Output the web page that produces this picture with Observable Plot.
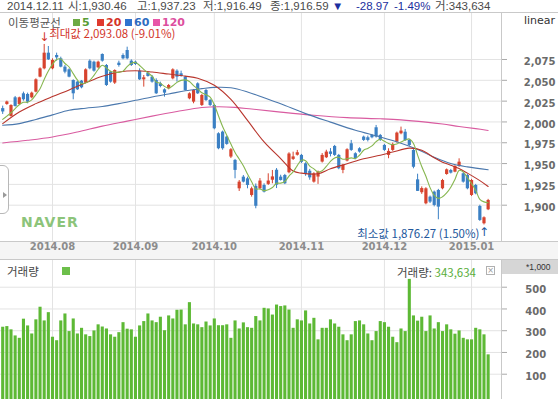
<!DOCTYPE html>
<html>
<head>
<meta charset="utf-8">
<script src="https://cdn.jsdelivr.net/npm/d3@7"></script>
<script src="https://cdn.jsdelivr.net/npm/@observablehq/plot@0.6"></script>
<style>
html,body{margin:0;padding:0;background:#fff;}
#root{position:relative;width:558px;height:399px;overflow:hidden;background:#fff;}
.t{position:absolute;white-space:nowrap;font-family:"Noto Sans CJK KR","DejaVu Sans",sans-serif;font-size:11.5px;line-height:12px;color:#4a4a4a;}
.ln{position:absolute;background:#c9c9c9;}
.sq{position:absolute;width:7px;height:7px;}
#root svg{position:absolute;left:0;}
</style>
</head>
<body>
<div id="root"></div>
<script>
// ---------- categories / ticks ----------
const monthLabels = ["2014.08","2014.09","2014.10","2014.11","2014.12","2015.01"];
const monthStartIdx = [12,32,51,72,92,113];   // trading-day index of the first session of each month
const priceTicks = [1900,1925,1950,1975,2000,2025,2050,2075];
const volTicks = [100,200,300,400,500];

// ---------- daily candles (KOSPI, 2014.07.16 – 2015.01.08) ----------
const opens = [2016,2021,2006.6,2029,2021,2033.8,2033,2029,2035.8,2053.8,
 2063.8,2082.6,2063.8,2079.8,2075.8,2065.8,2062.6,2049.8,2047.8,2049,
 2046.6,2073,2071.8,2065,2081,2067.8,2059.8,2046.6,2070.6,2079.8,
 2085.8,2073,2071.8,2061,2050.6,2058.6,2053.8,2049.8,2045.8,2038.6,
 2039.8,2051.8,2061,2057.8,2053.8,2027.8,2023.8,2045.8,2019.8,2037.8,
 2025.8,2019.8,1985.8,1987.8,1981.8,1957.8,1953.8,1919.7,1933.7,1931.7,
 1911.7,1922.7,1919.7,1923.7,1925,1930,1942,1933.7,1935.7,1939,
 1955,1960,1959.8,1949.7,1940.8,1927.7,1933.8,1951.8,1957,1964,
 1970.6,1959.8,1941.8,1953,1973.8,1961.8,1967.8,1981.8,1981,1983.8,
 1993,1983.8,1971.8,1959.8,1965.8,1975.8,1985.8,1987.7,1977.7,1965.7,
 1930.46,1915,1901.7,1909.7,1915.7,1917.7,1919.7,1936.9,1941.7,1939.7,
 1946.5,1937.7,1935.7,1911.7,1923.7,1898.5,1877.7,1894.5];
const highs = [2019,2025,2020.6,2030.6,2029.8,2035.8,2034.6,2035.8,2051.8,2065,
 2093.08,2090.6,2075.8,2082.6,2077.8,2067.8,2063.8,2050.6,2049,2049.8,
 2063.8,2074.6,2073,2073,2081.8,2069,2061,2062.6,2073,2081.8,
 2089.8,2074.6,2073,2063.8,2055.8,2059.8,2055.8,2051.8,2047.8,2039.8,
 2045,2063.8,2062.6,2061,2054.6,2035,2039,2047,2033,2039,
 2027,2021,1987,1989,1983,1968,1955,1929.7,1935.7,1933.7,
 1921.7,1925.5,1932,1925.7,1937.7,1941.7,1944,1936,1937,1963,
 1963.7,1965.8,1961,1951,1943,1939,1941,1962,1966,1968,
 1971.8,1961,1949,1967.8,1977.8,1963,1969,1983,1983,1985,
 1995.8,1985,1973,1967.8,1974.6,1987.8,1993.8,1991,1979,1967,
 1937.23,1922,1921,1911,1917,1919,1931,1943.5,1943,1947.5,
 1955.7,1939,1937,1931,1925,1900,1886,1907];
const lows = [2009,2020,2005.8,2017.8,2019.8,2025,2021.8,2027.8,2035,2053,
 2062.6,2073.8,2062.6,2073,2065,2057.8,2053,2026.6,2037.8,2039.8,
 2045.8,2062.6,2059.8,2063.8,2071.8,2042.6,2046.6,2045,2065.8,2074.6,
 2074.6,2066.6,2067.8,2049.8,2041.8,2053.8,2046.6,2033,2041,2029.8,
 2038.6,2050.6,2047.8,2053.8,2037,2026.6,2021.8,2033,2018.6,2024.6,
 2018.6,1990.6,1966.6,1966,1972,1956,1931.7,1916.5,1926.7,1919.7,
 1909.7,1895.7,1918.5,1914.7,1923.7,1925.7,1920,1929,1924.7,1937.7,
 1953.7,1959,1950,1934.7,1930,1926.5,1925,1950.6,1956,1958,
 1958.6,1942.6,1937.8,1952,1964.6,1954.6,1962.6,1976.6,1976,1979.8,
 1980.6,1976.6,1964.6,1955.8,1964.6,1974.6,1984.6,1976.6,1970.6,1943.7,
 1916.49,1913,1900.5,1902,1898,1882.5,1918.5,1936,1937.5,1939,
 1945.5,1926.5,1918.5,1910.5,1912.5,1880.5,1876.27,1893.5];
const closes = [2012,2024,2019.8,2018.6,2029,2026.6,2023.8,2034.6,2050.6,2063.8,
 2082.6,2074.6,2073.8,2077,2065.8,2059.8,2053.8,2033.8,2038.6,2041,
 2062.6,2063.8,2061,2071.8,2073,2043.8,2047.8,2061.8,2067.8,2075.8,
 2075.8,2067.8,2069,2050.6,2053,2054.6,2047.8,2033.8,2042.6,2034.6,
 2043.8,2062.6,2053.8,2054.6,2037.8,2033.8,2037.8,2033.8,2031.8,2025.8,
 2019.8,1991.8,1967.8,1967.8,1973,1966.6,1941.8,1927.7,1927.7,1923.7,
 1919.7,1898.7,1929,1915.7,1929,1934,1924,1929.7,1925.7,1961.5,
 1958,1963,1951.5,1936.8,1932.8,1937.7,1939.8,1959.8,1963.8,1961,
 1959.8,1943.8,1947.8,1966.6,1965.8,1955.8,1963.8,1977.8,1977.8,1981,
 1981.8,1977.8,1965.8,1964.6,1973,1986.6,1989,1977.7,1971.7,1945.56,
 1916.59,1920,1919.7,1903.7,1899.7,1897.7,1929.7,1942.5,1938.5,1946.5,
 1951.7,1927.7,1919.7,1929.7,1913.7,1881.7,1884.9,1905.7];
// volume, thousands of shares
const volumes = [316,319,304,276,265,353,322,285,350,408,
 345,383,270,254,345,377,296,354,285,311,
 281,273,299,327,317,308,281,270,291,337,
 307,304,270,322,342,377,345,337,362,300,
 368,354,394,395,327,429,331,327,314,340,
 322,354,323,323,327,265,345,308,336,314,
 311,365,345,403,400,372,418,411,414,395,
 311,350,345,391,331,357,258,311,311,350,
 331,316,281,254,281,342,345,327,285,254,
 296,342,337,316,270,245,308,296,536,368,
 344,362,296,368,308,337,296,327,304,284,
 299,265,258,258,311,304,281,189];

// ---------- moving averages ----------
const ma5 = [2003,2007,2011,2016,2020.7,2023.6,2023.6,2026.5,2032.9,2039.9,
 2051.1,2061.2,2069.1,2075,2075.5,2070.2,2066,2058,2050.4,2046,
 2047,2050,2056,2063,2068,2065,2060.5,2060,2059.5,2061,
 2066.5,2070.5,2071.5,2067.8,2063.2,2059,2055,2048,2046.4,2042.7,
 2040.5,2043.5,2047.5,2049.9,2050.5,2048.5,2043.6,2039.6,2035,2032.6,
 2029.8,2020.6,2007.4,1994.6,1984,1973.4,1963.4,1955.4,1947.4,1937.5,
 1928.1,1919.5,1919.5,1917.5,1918.5,1921.2,1926.3,1926.5,1928.5,1935,
 1940,1947.6,1954,1953.5,1947,1943.6,1939.8,1941.4,1946.6,1952.6,
 1956.8,1957.6,1955.2,1955.8,1956.8,1956,1960,1966,1968.2,1971.2,
 1976.4,1979.2,1976.8,1974.2,1972.6,1973.6,1975.8,1978.2,1979.6,1974.2,
 1960.2,1946.4,1934.7,1921.1,1911.9,1908.2,1910.1,1914.7,1921.6,1931,
 1941.8,1940,1933,1926,1918,1907,1904,1903];
const ma20Idx = [0,4,8,12,16,20,24,28,32,36,40,44,47,51,55,59,63,67,70,72,76,79,83,87,91,94,98,101,104,106,108,110,112,115,117];
const ma20Val = [1998,2012,2022,2030.5,2038.5,2047,2055,2060,2061.5,2060,2057.5,2055,2052.5,2044,2027,2001.8,1976,1956,1941,1938.5,1937.8,1943.8,1949.8,1955.8,1960,1963.8,1968.5,1966,1957,1951.7,1948,1944,1938.5,1929.5,1922.5];
const ma60Idx = [0,4,8,12,16,20,24,28,32,36,40,44,48,51,55,59,63,67,73,79,85,91,96,100,104,108,112,117];
const ma60Val = [1996,1998,2003,2008.5,2014,2016.5,2018.5,2022,2026,2030,2033.5,2037.5,2040,2041.5,2041,2036,2029,2021.8,2010,1999.8,1990,1982,1974.5,1967,1957.5,1950,1946,1942.5];
const ma120Idx = [0,6,12,18,24,30,36,42,48,52,56,60,67,75,83,91,96,102,106,110,114,117];
const ma120Val = [1974.8,1978,1982,1988,1995,2001,2007,2012.5,2017.3,2018.3,2017.5,2015.5,2011.8,2008,2005.2,2003.8,2002.5,1999.8,1997.5,1994.6,1992,1989.8];

// ---------- annotation texts ----------
const maxLabel = "최대값 2,093.08 (-9.01%)";
const minLabel = "최소값 1,876.27 (1.50%)";

// ---------- colours ----------
const UP = "#d7432e", DOWN = "#3b80c4";
const C5 = "#86b64f", C20 = "#b8352c", C60 = "#4b78ad", C120 = "#d95ba0";
const VOL = "#5db935", GRID = "#e3e3e3";

// ---------- derived tables ----------
const candles = closes.map((c, i) => ({i, o: opens[i], h: highs[i], l: lows[i], c, col: c >= opens[i] ? UP : DOWN}));
const volData = volumes.map((v, i) => ({i, v}));
const line5 = ma5.map((v, i) => ({i, v}));
const line20 = ma20Idx.map((i, k) => ({i, v: ma20Val[k]}));
const line60 = ma60Idx.map((i, k) => ({i, v: ma60Val[k]}));
const line120 = ma120Idx.map((i, k) => ({i, v: ma120Val[k]}));
const iMax = d3.maxIndex(highs), iMin = d3.minIndex(lows);
const maxPt = [{i: iMax, y: highs[iMax]}];
const minPt = [{i: iMin, y: lows[iMin]}];

const xDomain = [-0.53, 120.22];
const volFloor = -16.3;

const root = document.getElementById("root");
function el(tag, cls, css, html) {
  const e = document.createElement(tag);
  if (cls) e.className = cls;
  Object.assign(e.style, css);
  if (html != null) e.innerHTML = html;
  root.appendChild(e);
  return e;
}

// date row background
el("div", null, {position: "absolute", left: "0px", top: "242px", width: "558px", height: "17px", background: "#f5f5f5"});

// ---------- price panel ----------
const price = Plot.plot({
  width: 558, height: 247,
  marginLeft: 0, marginRight: 57, marginTop: 0, marginBottom: 18,
  x: {domain: xDomain, axis: null},
  y: {domain: [1856.4, 2131.45]},
  color: {type: "identity"},
  style: {background: "transparent", overflow: "visible"},
  marks: [
    Plot.gridY(priceTicks, {stroke: GRID, strokeOpacity: 1}),
    Plot.gridX(monthStartIdx, {stroke: GRID, strokeOpacity: 1}),
    Plot.ruleX(candles, {x: "i", y1: "l", y2: "h", stroke: "col", strokeWidth: 1}),
    Plot.ruleX(candles, {x: "i", y1: "o", y2: "c", stroke: "col", strokeWidth: 3.2}),
    Plot.line(line120, {x: "i", y: "v", stroke: C120, strokeWidth: 1.1, curve: "catmull-rom"}),
    Plot.line(line60, {x: "i", y: "v", stroke: C60, strokeWidth: 1.1, curve: "catmull-rom"}),
    Plot.line(line20, {x: "i", y: "v", stroke: C20, strokeWidth: 1.1, curve: "catmull-rom"}),
    Plot.line(line5, {x: "i", y: "v", stroke: C5, strokeWidth: 1.1, curve: "catmull-rom"}),
    Plot.axisY(priceTicks, {anchor: "right", tickSize: 5, stroke: "#aaaaaa", tickFormat: () => ""}),
    Plot.text(priceTicks, {y: d => d, frameAnchor: "right", dx: 54, dy: 2.5, textAnchor: "end",
      text: d => d3.format(",")(d), fill: "#6a6a6a", fontFamily: "DejaVu Sans", fontWeight: "bold", fontSize: 10}),
    Plot.text(monthStartIdx, {x: d => d, frameAnchor: "bottom", dy: 8.5, text: (d, k) => monthLabels[k],
      fill: "#8c8c8c", fontFamily: "DejaVu Sans", fontWeight: "bold", fontSize: 10}),
    // max / min annotations
    Plot.text(maxPt, {x: "i", y: "y", text: () => "↓", dy: -7.5, fill: "#d2362b", fontFamily: "DejaVu Sans", fontSize: 12}),
    Plot.text(maxPt, {x: "i", y: "y", text: () => maxLabel, textAnchor: "start", dx: 5, dy: -10.6,
      fill: "#d2362b", fontFamily: "Noto Sans CJK KR", fontSize: 11.5}),
    Plot.text(minPt, {x: "i", y: "y", text: () => "↑", dy: 7.5, fill: "#23589c", fontFamily: "DejaVu Sans", fontSize: 12}),
    Plot.text(minPt, {x: "i", y: "y", text: () => minLabel, textAnchor: "end", dx: -4.5, dy: 9.5,
      fill: "#23589c", fontFamily: "Noto Sans CJK KR", fontSize: 11.5})
  ]
});
price.style.top = "12px";
root.appendChild(price);

// ---------- volume panel ----------
const vol = Plot.plot({
  width: 558, height: 140,
  marginLeft: 0, marginRight: 57, marginTop: 0, marginBottom: 0,
  x: {domain: xDomain, axis: null},
  y: {domain: [volFloor, 627.4]},
  style: {background: "transparent", overflow: "visible"},
  marks: [
    Plot.gridY(volTicks, {stroke: GRID, strokeOpacity: 1}),
    Plot.gridX(monthStartIdx, {stroke: GRID, strokeOpacity: 1}),
    Plot.ruleX(volData, {x: "i", y1: volFloor, y2: "v", stroke: VOL, strokeWidth: 3.1}),
    Plot.axisY(volTicks, {anchor: "right", tickSize: 5, stroke: "#aaaaaa", tickFormat: () => ""}),
    Plot.text(volTicks, {y: d => d, frameAnchor: "right", dx: 44.7, dy: 2.5, textAnchor: "end",
      text: d => String(d), fill: "#6a6a6a", fontFamily: "DejaVu Sans", fontWeight: "bold", fontSize: 10})
  ]
});
vol.style.top = "259px";
root.appendChild(vol);

// ---------- frame lines ----------
el("div", "ln", {left: "0px", top: "12px", width: "558px", height: "1px"});
el("div", "ln", {left: "0px", top: "241px", width: "558px", height: "1px"});
el("div", "ln", {left: "0px", top: "259px", width: "558px", height: "1px"});
el("div", "ln", {left: "501px", top: "12px", width: "1px", height: "229px"});
el("div", "ln", {left: "501px", top: "259px", width: "1px", height: "140px"});

// ---------- header ----------
const hdr = [
  ["2014.12.11", 7, "#4a4a4a"], ["시:1,930.46", 68, "#4a4a4a"], ["고:1,937.23", 137, "#4a4a4a"],
  ["저:1,916.49", 203, "#4a4a4a"], ["종:1,916.59", 270, "#4a4a4a"], ["▼", 332, "#1b2f9e"],
  ["-28.97", 356, "#1b2f9e"], ["-1.49%", 394, "#1b2f9e"], ["거:343,634", 435, "#4a4a4a"]
];
hdr.forEach(([s, x, c]) => el("div", "t", {left: x + "px", top: "1px", color: c,
  fontFamily: "'Liberation Sans','Noto Sans CJK KR',sans-serif", fontSize: "11.5px", lineHeight: "11px"}, s));

// ---------- MA legend ----------
el("div", "t", {left: "8px", top: "17px", color: "#555", lineHeight: "11px"}, "이동평균선");
const legendItems = [["5", 73, "#6caa44", "#5a9c34"], ["20", 97, "#e03a2e", "#d5342a"], ["60", 125, "#2f74d0", "#2f6cc0"], ["120", 153, "#e857a8", "#dd4f9e"]];
legendItems.forEach(([s, x, sq, tc]) => {
  el("div", "sq", {left: x + "px", top: "19px", background: sq});
  el("div", "t", {left: (x + 9) + "px", top: "17px", color: tc, fontFamily: "DejaVu Sans", fontWeight: "bold", fontSize: "11px", lineHeight: "11px"}, s);
});
el("div", "t", {left: "524px", top: "15px", color: "#333", fontFamily: "DejaVu Sans", fontSize: "11px", lineHeight: "11px"}, "linear");

// NAVER watermark
el("div", "t", {left: "21px", top: "215px", color: "#8cc47a", fontFamily: "DejaVu Sans", fontWeight: "bold", fontSize: "14px", lineHeight: "14px", letterSpacing: "1px"}, "NAVER");

// left tab
el("div", null, {position: "absolute", left: "-7px", top: "165px", width: "14px", height: "47px", border: "1px solid #b8b8b8", borderRadius: "6px", background: "#fff"});
el("div", null, {position: "absolute", left: "3px", top: "192px", width: "0px", height: "0px", borderLeft: "4px solid #9a9a9a", borderTop: "3px solid transparent", borderBottom: "3px solid transparent"});

// ---------- volume panel labels ----------
el("div", "t", {left: "7px", top: "265px", color: "#444"}, "거래량");
el("div", "sq", {left: "62px", top: "267px", width: "8px", height: "8px", background: "#6cbf4a"});
el("div", "t", {left: "397px", top: "266px", color: "#444"}, "거래량: <span style='color:#5aae3a'>343,634</span>");
el("div", null, {position: "absolute", left: "486px", top: "266px", width: "7px", height: "7px", border: "1px solid #b0b0b0", color: "#999", fontSize: "8px", lineHeight: "7px", textAlign: "center", fontFamily: "DejaVu Sans"}, "×");
el("div", null, {position: "absolute", left: "502px", top: "260px", width: "56px", height: "14px", background: "#d6d6d6"});
el("div", "t", {left: "526px", top: "262px", color: "#333", fontFamily: "Liberation Sans", fontSize: "8.5px", lineHeight: "10px"}, "*1,000");
</script>
</body>
</html>
